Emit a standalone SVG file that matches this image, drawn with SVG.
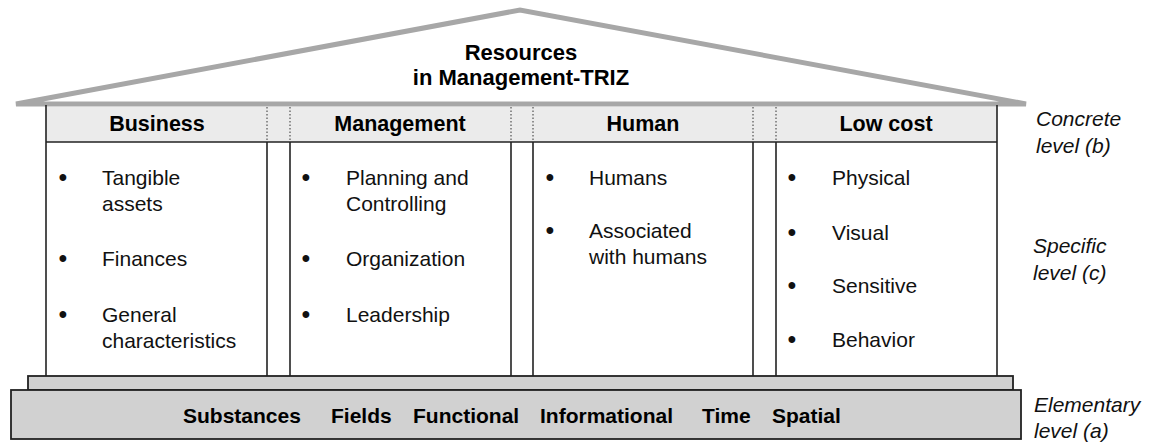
<svg xmlns="http://www.w3.org/2000/svg" width="1162" height="446" viewBox="0 0 1162 446">
  <style>
    .roof { fill: #ffffff; stroke: #a7a7a7; stroke-width: 5; stroke-linejoin: miter; stroke-miterlimit: 4; }
    .title { font-family: "Liberation Sans", Arial, sans-serif; font-size: 22px; font-weight: bold; fill: #000; text-anchor: middle; }
    .head { fill: #ebebeb; stroke: none; }
    .headtxt { font-family: "Liberation Sans", Arial, sans-serif; font-size: 21.5px; font-weight: bold; fill: #000; text-anchor: middle; }
    .body { font-family: "Liberation Sans", Arial, sans-serif; font-size: 21px; fill: #111; }
    .body .bul { font-size: 25px; text-anchor: middle; }
    .solid { stroke: #222; stroke-width: 1.6; fill: none; }
    .dot { stroke: #333; stroke-width: 1; stroke-dasharray: 1.5 2; fill: none; }
    .base { fill: #d1d1d1; stroke: #222; stroke-width: 1.8; }
    .basetxt { font-family: "Liberation Sans", Arial, sans-serif; font-size: 21px; font-weight: bold; fill: #000; }
    .level { font-family: "Liberation Sans", Arial, sans-serif; font-size: 21px; font-style: italic; fill: #111; }
  </style>

  <!-- roof -->
  <g id="roof">
    <polygon class="roof" points="16,104 520,10 1026,104"/>
    <text class="title" x="521" y="60">Resources</text>
    <text class="title" x="521" y="85">in Management-TRIZ</text>
  </g>

  <!-- header band of the four pillars -->
  <rect class="head" x="46" y="107" width="951" height="35"/>

  <!-- pillar: Business -->
  <g id="business">
    <text class="headtxt" x="157" y="131">Business</text>
    <g class="body">
      <text class="bul" x="63" y="186">•</text><text x="102" y="185">Tangible</text>
      <text x="102" y="211">assets</text>
      <text class="bul" x="63" y="267">•</text><text x="102" y="266">Finances</text>
      <text class="bul" x="63" y="323">•</text><text x="102" y="322">General</text>
      <text x="102" y="348">characteristics</text>
    </g>
  </g>

  <!-- pillar: Management -->
  <g id="management">
    <text class="headtxt" x="400" y="131">Management</text>
    <g class="body">
      <text class="bul" x="306" y="186">•</text><text x="346" y="185">Planning and</text>
      <text x="346" y="211">Controlling</text>
      <text class="bul" x="306" y="267">•</text><text x="346" y="266">Organization</text>
      <text class="bul" x="306" y="323">•</text><text x="346" y="322">Leadership</text>
    </g>
  </g>

  <!-- pillar: Human -->
  <g id="human">
    <text class="headtxt" x="643" y="131">Human</text>
    <g class="body">
      <text class="bul" x="550" y="186">•</text><text x="589" y="185">Humans</text>
      <text class="bul" x="550" y="239">•</text><text x="589" y="238">Associated</text>
      <text x="589" y="264">with humans</text>
    </g>
  </g>

  <!-- pillar: Low cost -->
  <g id="lowcost">
    <text class="headtxt" x="886" y="131">Low cost</text>
    <g class="body">
      <text class="bul" x="792" y="186">•</text><text x="832" y="185">Physical</text>
      <text class="bul" x="792" y="241">•</text><text x="832" y="240">Visual</text>
      <text class="bul" x="792" y="294">•</text><text x="832" y="293">Sensitive</text>
      <text class="bul" x="792" y="348">•</text><text x="832" y="347">Behavior</text>
    </g>
  </g>

  <!-- pillar outlines and separators -->
  <g id="pillar-lines">
    <line class="solid" x1="46" y1="105" x2="46" y2="376"/>
    <line class="solid" x1="997" y1="105" x2="997" y2="376"/>
    <line class="solid" x1="46" y1="142" x2="997" y2="142" stroke-width="2.2"/>
    <g class="dot">
      <line x1="267" y1="107" x2="267" y2="142"/>
      <line x1="290" y1="107" x2="290" y2="142"/>
      <line x1="511" y1="107" x2="511" y2="142"/>
      <line x1="533" y1="107" x2="533" y2="142"/>
      <line x1="753" y1="107" x2="753" y2="142"/>
      <line x1="776" y1="107" x2="776" y2="142"/>
    </g>
    <g class="solid">
      <line x1="267" y1="142" x2="267" y2="376"/>
      <line x1="290" y1="142" x2="290" y2="376"/>
      <line x1="511" y1="142" x2="511" y2="376"/>
      <line x1="533" y1="142" x2="533" y2="376"/>
      <line x1="753" y1="142" x2="753" y2="376"/>
      <line x1="776" y1="142" x2="776" y2="376"/>
    </g>
  </g>

  <!-- foundation steps -->
  <g id="foundation">
    <rect class="base" x="28" y="376" width="985" height="14"/>
    <rect class="base" x="11" y="390" width="1010" height="49"/>
    <text class="basetxt" y="423">
      <tspan x="183">Substances</tspan>
      <tspan x="331">Fields</tspan>
      <tspan x="413">Functional</tspan>
      <tspan x="540">Informational</tspan>
      <tspan x="702">Time</tspan>
      <tspan x="772">Spatial</tspan>
    </text>
  </g>

  <!-- level annotations -->
  <g id="levels">
    <text class="level" x="1036" y="126">Concrete</text>
    <text class="level" x="1036" y="153">level (b)</text>
    <text class="level" x="1033" y="253">Specific</text>
    <text class="level" x="1033" y="280">level (c)</text>
    <text class="level" x="1034" y="412">Elementary</text>
    <text class="level" x="1034" y="438">level (a)</text>
  </g>
</svg>
